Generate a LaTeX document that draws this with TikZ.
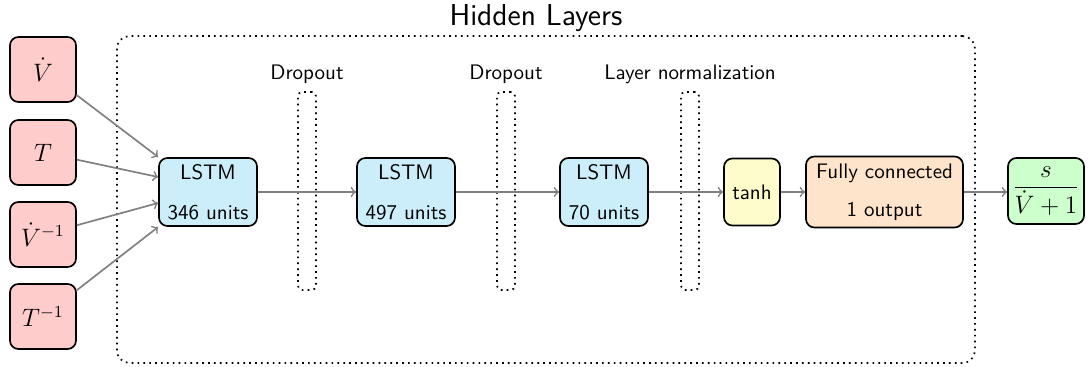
\documentclass[tikz,border=0pt]{standalone}
\usetikzlibrary{calc}
\newdimen\px
\px=0.4762pt
\definecolor{inred}{RGB}{255,204,204}
\definecolor{lstmblue}{RGB}{204,238,250}
\definecolor{tanhyellow}{RGB}{255,252,204}
\definecolor{fcpeach}{RGB}{255,228,204}
\definecolor{outgreen}{RGB}{204,255,204}
\tikzset{
  box/.style={draw=black, thick, rounded corners=4pt, inner sep=0pt, align=center, font=\sffamily},
  inbox/.style={box, fill=inred, minimum width=66\px, minimum height=65\px, font=\large},
  lstmbox/.style={box, fill=lstmblue, minimum height=68\px},
  gate/.style={draw=black, thick, dotted, rounded corners=2pt, minimum width=18\px, minimum height=198\px, inner sep=0pt},
  lbl/.style={font=\sffamily, inner sep=0pt},
  arrow/.style={->, draw=gray, thick}
}
\begin{document}
\begin{tikzpicture}[x=1\px, y=-1\px]
\useasboundingbox (0,0) rectangle (1088,367);

% hidden-layer frame and title
\node[draw=black, thick, dotted, rounded corners=6pt, minimum width=858\px, minimum height=327\px, inner sep=0pt] (hidden) at (546,199.5) {};
\node[lbl, font=\sffamily\Large] (hiddentitle) at (536,18) {Hidden Layers};

% inputs
\node[inbox] (in1) at (43,69.5) {$\dot V$};
\node[inbox] (in2) at (43,152.5) {$T$};
\node[inbox] (in3) at (43,234.5) {$\dot V^{-1}$};
\node[inbox] (in4) at (43,316.5) {$T^{-1}$};

% recurrent layers
\node[lstmbox, minimum width=98\px] (lstm1) at (208,192) {LSTM\\[7pt]346 units};
\node[lstmbox, minimum width=98\px] (lstm2) at (406,192) {LSTM\\[7pt]497 units};
\node[lstmbox, minimum width=88\px] (lstm3) at (604,192) {LSTM\\[7pt]70 units};

% dropout / normalization stages
\node[gate] (drop1) at (307,191) {};
\node[gate] (drop2) at (506,191) {};
\node[gate] (norm) at (690,191) {};
\node[lbl] (drop1lbl) at (307,74) {Dropout};
\node[lbl] (drop2lbl) at (506,74) {Dropout};
\node[lbl] (normlbl) at (690,74) {Layer normalization};

% activation, dense layer, output
\node[box, fill=tanhyellow, minimum width=56\px, minimum height=67\px] (tanh) at (752,192) {tanh};
\node[box, fill=fcpeach, minimum width=157\px, minimum height=71\px] (fc) at (884.5,192) {Fully connected\\[6pt]1 output};
\node[box, fill=outgreen, minimum width=76\px, minimum height=66\px, font=\large] (out) at (1046,191) {$\displaystyle\frac{s}{\dot V+1}$};

% connections
\draw[arrow] (in1) -- ($(lstm1.west)+(0,-35)$);
\draw[arrow] (in2) -- ($(lstm1.west)+(0,-15)$);
\draw[arrow] (in3) -- ($(lstm1.west)+(0,11)$);
\draw[arrow] (in4) -- ($(lstm1.west)+(0,35)$);
\draw[arrow] (lstm1) -- (lstm2);
\draw[arrow] (lstm2) -- (lstm3);
\draw[arrow] (lstm3) -- (tanh);
\draw[arrow] (tanh) -- (fc);
\draw[arrow] (fc) -- (fc -| out.west);
\end{tikzpicture}
\end{document}
